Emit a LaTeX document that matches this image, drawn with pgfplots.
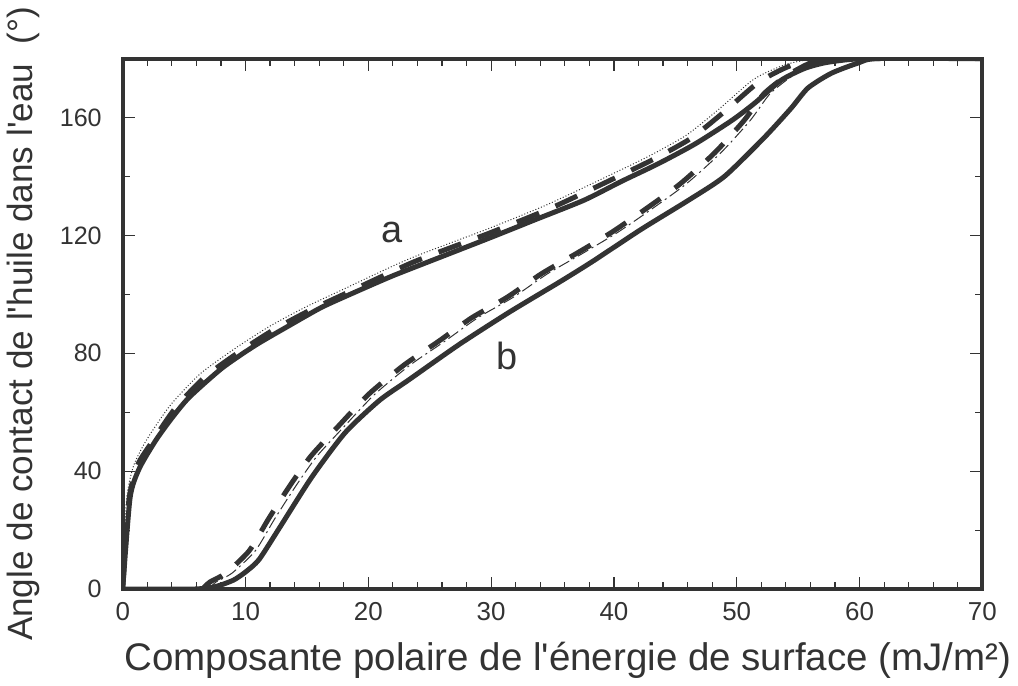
\documentclass[border=0pt]{standalone}
\usepackage{fontspec}
\setmainfont{Liberation Sans}[Ligatures=TeXOff]
\usepackage{pgfplots}
\pgfplotsset{compat=1.18}
\definecolor{ink}{RGB}{51,51,51}

\begin{document}
\begin{tikzpicture}
\begin{axis}[
    scale only axis,
    width=431pt, height=266pt,
    xmin=0, xmax=70, ymin=0, ymax=180,
    xtick distance=10, minor x tick num=4,
    ytick={0,40,80,120,160}, minor y tick num=1,
    tick align=inside,
    major tick length=6pt, minor tick length=3.5pt,
    tick style={ink, line width=0.6pt},
    axis line style={ink, line width=2pt},
    /pgf/number format/assume math mode=true,
    x tick label style={font=\fontsize{13}{13}\selectfont, text=ink, yshift=-3pt},
    y tick label style={font=\fontsize{12.6}{13}\selectfont, text=ink, xshift=-7pt},
    xlabel={Composante polaire de l'énergie de surface (mJ/m²)},
    ylabel={Angle de contact de l'huile dans l'eau\ \ (°)},
    label style={text=ink},
    xlabel style={font=\fontsize{19.3}{19}\selectfont, at={(axis description cs:0.518,-0.135)}, anchor=center},
    ylabel style={font=\fontsize{17.6}{18}\selectfont, at={(axis description cs:-0.116,0.5)}, anchor=center},
    every axis plot/.append style={ink, smooth, tension=0.4},
]
% a : trait plein
\addplot[line width=2.5pt] coordinates {
(0,0) (0.6,31) (1.36,41) (2.7,50.5) (4,58) (5.4,65) (8.1,75) (10.8,82.7)
(13.6,89.5) (16.2,95.6) (18.9,100.7) (22,106.3) (25.8,112.5) (29.8,119)
(33.7,125.5) (37.6,132) (40.6,138.3) (43.6,144.3) (46.6,151) (49.6,159)
(51.5,165) (53.6,172.6) (55.5,176.6) (57.1,178.5) (59,179.6) (61,180) (70,180)};
% a : tirets
\addplot[line width=2.5pt, dash pattern=on 12pt off 9pt] coordinates {
(0,0) (0.5,30) (1.2,42) (2.4,50) (4.3,61.5) (6.7,72) (9.5,80.5) (12.3,88)
(15.2,94.5) (18,100) (23.7,111) (30,121) (35,129.5) (40.6,140.5) (43.3,146)
(46.3,153) (49,162) (51.8,172) (54.4,177.6) (57,179.6) (60,180)};
% a : pointilles
\addplot[line width=0.5pt, densely dotted] coordinates {
(0,0) (0.3,30) (0.9,42) (2.0,51) (3.9,62.5) (6.3,73) (9.1,81.5) (11.9,89)
(14.8,95.5) (17.6,101) (23.3,112) (29.6,122) (34.6,130.5) (40.2,141.5) (42.9,147)
(45.9,154) (48.6,163) (51.4,173) (54,178) (56.6,180) (60,180)};
% b : trait plein
\addplot[line width=2.5pt] coordinates {
(0,0) (5.7,0) (7.5,0.8) (9,3) (10,5.8) (11.1,10) (12.8,21) (15.4,38) (18.1,53)
(20.9,64) (23.3,71) (27.4,83) (31.5,94) (35.5,104) (38.2,111) (42.2,122)
(46.1,132) (49,140) (52.2,153) (54.4,163) (55.8,170) (57.7,175) (59.9,178.5)
(61.5,180) (70,180)};
% b : tirets
\addplot[line width=2.5pt, dash pattern=on 12pt off 9pt] coordinates {
(6.5,0) (7.1,2.4) (8.4,5.4) (10.3,13) (11.9,24) (13.6,35) (15.3,45) (17.5,55)
(20,66) (22.9,76) (25.7,84) (28.4,92) (31.3,99) (34.1,107) (37,114) (39.8,121)
(42.6,129) (45.4,137.5) (48.2,148) (50.6,159) (52.2,168) (54,174) (56,178.5)
(58,180) (60,180)};
% b : tiret-point
\addplot[line width=0.5pt, dash pattern=on 6pt off 2pt on 1pt off 2pt] coordinates {
(7.0,0) (7.6,2.4) (8.9,5.4) (10.8,13) (12.4,24) (14.1,35) (15.8,45) (18,55)
(20.5,66) (23.4,76) (26.2,84) (28.9,92) (31.8,99) (34.6,107) (37.5,114) (40.3,121)
(43.1,129) (45.9,137.5) (48.7,148) (51.1,159) (52.7,168) (54.5,174) (56.5,178.5)
(58.5,180) (60,180)};
\node[font=\fontsize{19}{19}\selectfont, text=ink] at (axis cs:21.9,121) {a};
\node[font=\fontsize{19}{19}\selectfont, text=ink] at (axis cs:31.3,79) {b};
\end{axis}
\end{tikzpicture}
\end{document}
